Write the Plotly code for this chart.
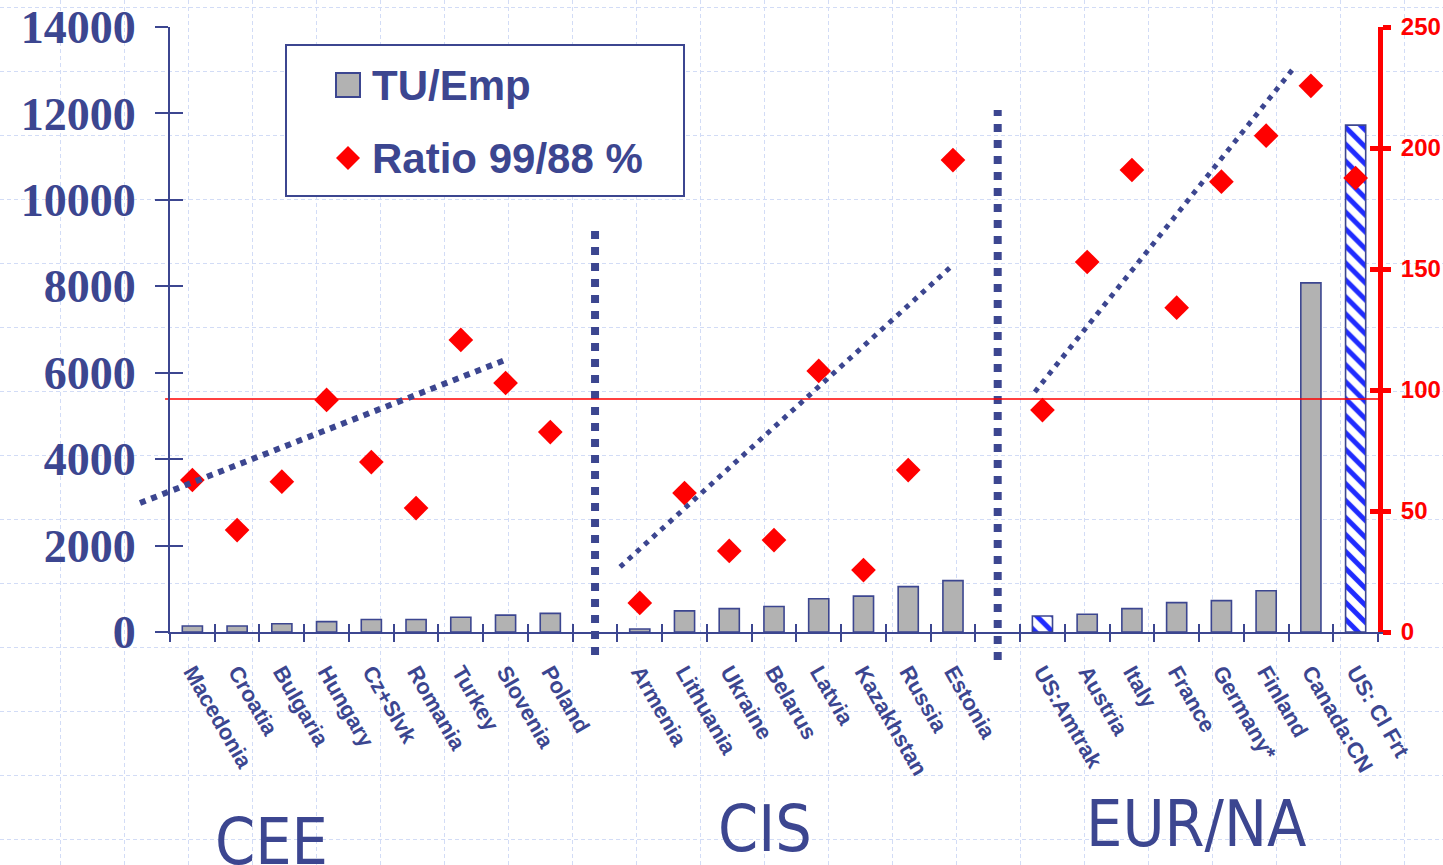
import plotly.graph_objects as go

# ---------------------------------------------------------------- data
cee_names = ["Macedonia", "Croatia", "Bulgaria", "Hungary", "Cz+Slvk",
             "Romania", "Turkey", "Slovenia", "Poland"]
cee_tu = [140, 140, 190, 240, 290, 290, 340, 390, 430]
cee_ratio = [62.8, 42.1, 62.1, 95.9, 70.2, 51.2, 120.7, 102.9, 82.6]

cis_names = ["Armenia", "Lithuania", "Ukraine", "Belarus", "Latvia",
             "Kazakhstan", "Russia", "Estonia"]
cis_tu = [70, 490, 540, 590, 770, 830, 1050, 1190]
cis_ratio = [12.0, 57.4, 33.5, 38.0, 107.9, 25.6, 66.9, 195.0]

eur_names = ["US:Amtrak", "Austria", "Italy", "France", "Germany*",
             "Finland", "Canada:CN", "US: Cl Frt"]
eur_tu = [370, 410, 540, 680, 725, 955, 8080, 11730]
eur_ratio = [91.7, 152.9, 190.9, 134.0, 186.1, 205.1, 225.7, 187.6]

hatched_names = ["US:Amtrak", "US: Cl Frt"]

group_labels = ["CEE", "CIS", "EUR/NA"]

left_ticks = [0, 2000, 4000, 6000, 8000, 10000, 12000, 14000]
right_ticks = [0, 50, 100, 150, 200, 250]

# group trend lines, (slot, %) end points
trend_cee_x, trend_cee_y = [-1.17, 6.99], [53.3, 112.4]
trend_cis_x, trend_cis_y = [9.56, 17.0], [26.9, 151.7]
trend_eur_x, trend_eur_y = [18.83, 24.58], [99.2, 232.2]

# dotted group separators (TU/Emp units)
sep_top = [9280, 12080]
sep_bottom = [-530, -650]

# reference ratio line (%)
parity_pct = 96.3
parity_x = [-0.61, 26.5]

# ---------------------------------------------------------------- slots
groups = [(cee_names, cee_tu, cee_ratio),
          (cis_names, cis_tu, cis_ratio),
          (eur_names, eur_tu, eur_ratio)]
xs, names, tu, ratio, gap_slots = [], [], [], [], []
slot = 0
for gi, (gn, gt, gr) in enumerate(groups):
    for n, t, r in zip(gn, gt, gr):
        xs.append(slot)
        names.append(n)
        tu.append(t)
        ratio.append(r)
        slot += 1
    if gi < len(groups) - 1:
        gap_slots.append(slot)
        slot += 1
n_slots = slot

# ---------------------------------------------------------------- styling
W, H = 1443, 865
NAVY = "#3c4690"
RED = "#ff0000"
GRAY = "#b2b2b2"
HATCH = "#1f2bff"
GRIDC = "#d2dcf6"

PL, PR, PT, PB = 170, 1378, 27, 632          # axes box, px
slot_px = (PR - PL) / n_slots
Y_MAX, R_MAX = 14000, 250
Y_LO = -900                                   # data area reaches under the axis
data_left_px = PL - slot_px
data_bottom_px = PB + (-Y_LO) / Y_MAX * (PB - PT)

dom_x_data = [data_left_px / W, PR / W]
dom_y_data = [(H - data_bottom_px) / H, (H - PT) / H]
dom_x_axes = [PL / W, PR / W]
dom_y_axes = [(H - PB) / H, (H - PT) / H]

plain = [i for i, n in enumerate(names) if n not in hatched_names]
hatch = [i for i, n in enumerate(names) if n in hatched_names]

fig = go.Figure()

fig.add_trace(go.Bar(
    x=[xs[i] for i in plain], y=[tu[i] for i in plain], name="TU/Emp",
    xaxis="x2", yaxis="y2", width=0.45,
    marker=dict(color=GRAY, line=dict(color=NAVY, width=1.6)),
    hoverinfo="skip"))

fig.add_trace(go.Bar(
    x=[xs[i] for i in hatch], y=[tu[i] for i in hatch], name="TU/Emp",
    xaxis="x2", yaxis="y2", width=0.45, showlegend=False,
    marker=dict(color="white", line=dict(color=NAVY, width=1.6),
                pattern=dict(shape="\\", fgcolor=HATCH, bgcolor="white",
                             size=12, solidity=0.42, fillmode="replace")),
    hoverinfo="skip"))

for gx, top, bot in zip(gap_slots, sep_top, sep_bottom):
    fig.add_trace(go.Scatter(
        x=[gx, gx], y=[bot, top], mode="lines", xaxis="x2", yaxis="y2",
        line=dict(color=NAVY, width=8, dash="8px,8px"), hoverinfo="skip",
        showlegend=False))

fig.add_trace(go.Scatter(
    x=parity_x, y=[parity_pct, parity_pct], mode="lines", xaxis="x2", yaxis="y3",
    line=dict(color=RED, width=1.5), hoverinfo="skip", showlegend=False))

fig.add_trace(go.Scatter(
    x=xs, y=ratio, name="Ratio 99/88 %", mode="markers", xaxis="x2", yaxis="y3",
    marker=dict(symbol="diamond", size=19, color=RED, line=dict(width=0)),
    hoverinfo="skip"))

for tx, ty, w, d in [(trend_cee_x, trend_cee_y, 6, "6px,6px"),
                     (trend_cis_x, trend_cis_y, 5, "5px,6px"),
                     (trend_eur_x, trend_eur_y, 5, "5px,6px")]:
    fig.add_trace(go.Scatter(
        x=tx, y=ty, mode="lines", xaxis="x2", yaxis="y3",
        line=dict(color=NAVY, width=w, dash=d), hoverinfo="skip",
        showlegend=False))

# empty traces so that every drawn axis gets its subplot
for xa, ya in [("x3", "y4"), ("x4", "y4"), ("x5", "y4"),
               ("x3", "y5"), ("x3", "y6"), ("x3", "y7")]:
    fig.add_trace(go.Scatter(x=[], y=[], xaxis=xa, yaxis=ya, mode="markers",
                             hoverinfo="skip", showlegend=False))

boundaries = [i - 0.5 for i in range(n_slots + 1)]
left_font = dict(family="Liberation Serif, Times New Roman, serif", size=46,
                 color=NAVY, weight="bold")
right_font = dict(family="Liberation Sans, Arial, sans-serif", size=24,
                  color=RED, weight="bold")
cat_font = dict(family="Liberation Sans, Arial, sans-serif", size=22,
                color=NAVY, weight="bold")

hidden = dict(showgrid=False, zeroline=False, showline=False, ticks="",
              showticklabels=False, automargin=False)
common = dict(showgrid=False, zeroline=False, automargin=False)

fig.update_layout(
    width=W, height=H, margin=dict(l=0, r=0, t=0, b=0, autoexpand=False),
    paper_bgcolor="white", plot_bgcolor="rgba(0,0,0,0)", showlegend=False,
    barmode="overlay",
    # page-wide dashed background grid (pixel units)
    xaxis=dict(domain=[0, 1], range=[0, W], anchor="y", showgrid=True,
               tick0=60, dtick=64, gridcolor=GRIDC, gridwidth=1,
               griddash="4px,3px", zeroline=False, showline=False,
               ticks="", showticklabels=False, fixedrange=True,
               automargin=False),
    yaxis=dict(domain=[0, 1], range=[H, 0], anchor="x", showgrid=True,
               tick0=7, dtick=64, gridcolor=GRIDC, gridwidth=1,
               griddash="4px,3px", zeroline=False, showline=False,
               ticks="", showticklabels=False, fixedrange=True,
               automargin=False),
    # data axes
    xaxis2=dict(domain=dom_x_data, range=[-1.5, n_slots - 0.5], anchor="y2",
                **hidden),
    yaxis2=dict(domain=dom_y_data, range=[Y_LO, Y_MAX], anchor="x2", **hidden),
    yaxis3=dict(range=[Y_LO * R_MAX / Y_MAX, R_MAX], overlaying="y2",
                anchor="x2", side="right", **hidden),
    # drawn axes
    xaxis3=dict(domain=dom_x_axes, range=[-0.5, n_slots - 0.5], anchor="y4",
                showline=True, linecolor=NAVY, linewidth=2, ticks="outside",
                ticklen=8, tickwidth=2, tickcolor=NAVY, tickmode="array",
                tickvals=boundaries, showticklabels=False, **common),
    xaxis4=dict(range=[-0.5, n_slots - 0.5], overlaying="x3", anchor="y4",
                showline=False, ticks="inside", ticklen=8, tickwidth=2,
                tickcolor=NAVY, tickmode="array", tickvals=boundaries,
                showticklabels=False, **common),
    xaxis5=dict(range=[-0.5, n_slots - 0.5], overlaying="x3", anchor="y4",
                showline=False, ticks="", tickmode="array", tickvals=xs,
                ticktext=names, tickangle=60, tickfont=cat_font,
                ticklabelstandoff=22, **common),
    yaxis4=dict(domain=dom_y_axes, range=[0, Y_MAX], anchor="x3", side="left",
                showline=True, linecolor=NAVY, linewidth=2, ticks="outside",
                ticklen=13, tickwidth=2, tickcolor=NAVY, tickmode="array",
                tickvals=left_ticks, ticktext=[str(v) for v in left_ticks],
                tickfont=left_font, ticklabelstandoff=10, **common),
    yaxis5=dict(range=[0, Y_MAX], overlaying="y4", anchor="x3", side="left",
                showline=False, ticks="inside", ticklen=13, tickwidth=2,
                tickcolor=NAVY, tickmode="array", tickvals=left_ticks,
                showticklabels=False, **common),
    yaxis6=dict(range=[0, R_MAX], overlaying="y4", anchor="x3", side="right",
                showline=True, linecolor=RED, linewidth=5, ticks="outside",
                ticklen=8, tickwidth=5, tickcolor=RED, tickmode="array",
                tickvals=right_ticks, ticktext=[str(v) for v in right_ticks],
                tickfont=right_font, ticklabelstandoff=5, **common),
    yaxis7=dict(range=[0, R_MAX], overlaying="y4", anchor="x3", side="right",
                showline=False, ticks="inside", ticklen=8, tickwidth=5,
                tickcolor=RED, tickmode="array", tickvals=right_ticks,
                showticklabels=False, **common),
)

# legend box (pixel units on the page grid axes)
fig.add_shape(type="rect", xref="x", yref="y", x0=286, y0=45, x1=684, y1=196,
              line=dict(color=NAVY, width=2), fillcolor="white")
fig.add_shape(type="rect", xref="x", yref="y", x0=336, y0=73, x1=360, y1=97,
              line=dict(color=NAVY, width=2), fillcolor=GRAY)
fig.add_shape(type="path", xref="x", yref="y",
              path="M 348,146 L 360,158 L 348,170 L 336,158 Z",
              line=dict(width=0), fillcolor=RED)
legend_font = dict(family="Liberation Sans, Arial, sans-serif", size=42,
                   color=NAVY, weight="bold")
for txt, ly in [("TU/Emp", 85), ("Ratio 99/88 %", 158)]:
    fig.add_annotation(x=370, y=ly, xref="x", yref="y", text=txt,
                       showarrow=False, xanchor="left", yanchor="middle",
                       font=legend_font)

group_font = dict(family="DejaVu Sans Condensed, DejaVu Sans, sans-serif",
                  size=64, color=NAVY)
for txt, gx, gy in zip(group_labels, [271, 765, 1196], [842, 829, 824]):
    fig.add_annotation(x=gx, y=gy, xref="x", yref="y", text=txt,
                       showarrow=False, xanchor="center", yanchor="middle",
                       font=group_font)

fig.write_html("out.html")
